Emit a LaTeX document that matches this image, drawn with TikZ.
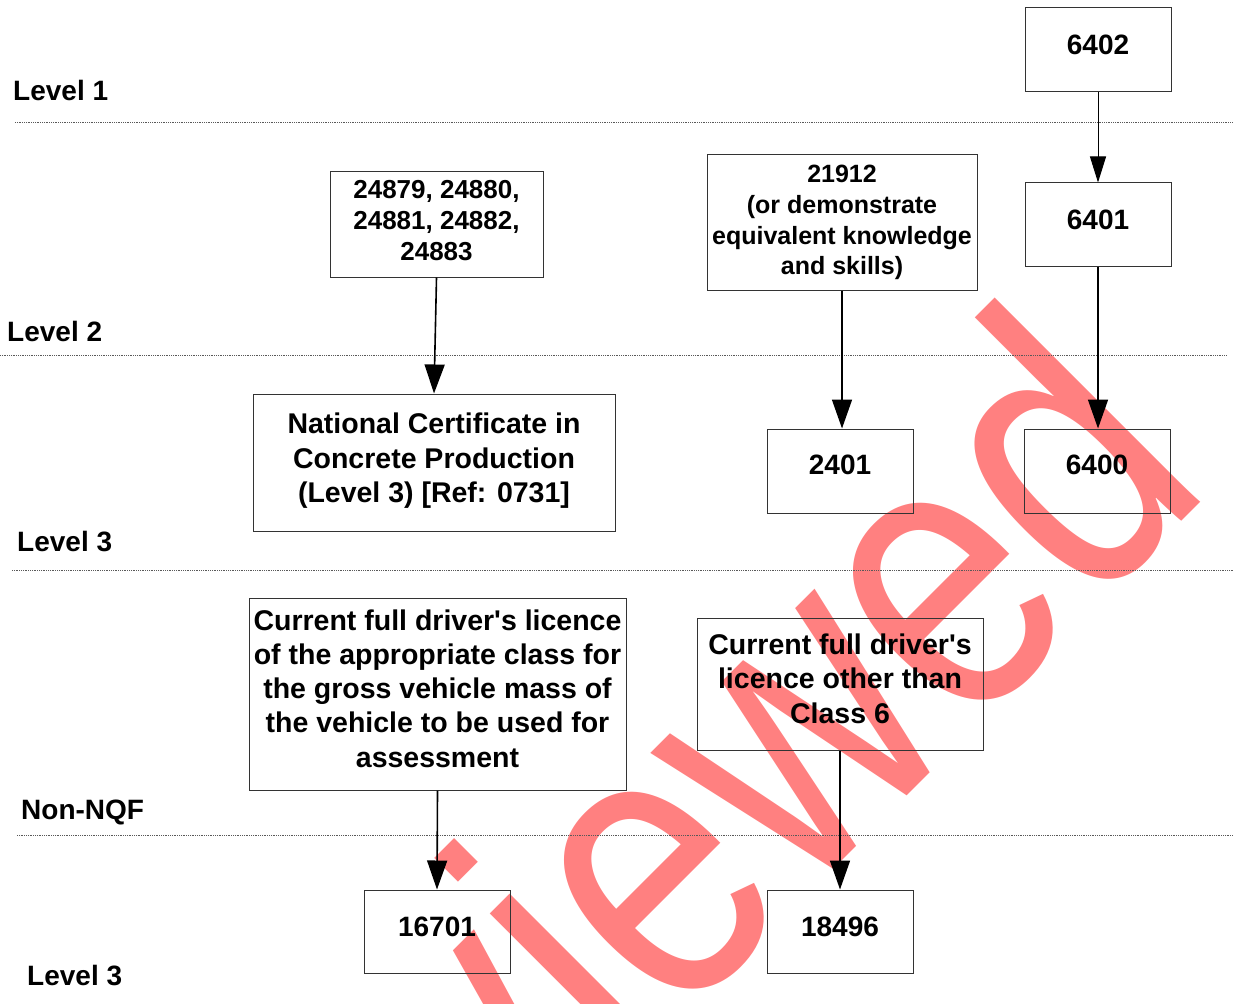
\documentclass[tikz,border=0pt]{standalone}
\usepackage{graphicx}
\usepackage{fontspec}
\setmainfont{Liberation Sans}
\usetikzlibrary{arrows.meta}
\definecolor{wmred}{RGB}{255,128,128}
\tikzset{
  boxnode/.style={draw=black!80, line width=1pt, inner sep=0pt},
  txt/.style={inner sep=0pt, align=center, font=\bfseries\fontsize{28}{34.5}\selectfont},
  txtbig/.style={inner sep=0pt, align=center, font=\bfseries\fontsize{28.5}{34.5}\selectfont},
  lvl/.style={anchor=west, inner sep=0pt, font=\bfseries\fontsize{28}{34}\selectfont},
  sepline/.style={draw=black!65, line width=0.9pt, dash pattern=on 0.9pt off 0.9pt},
  arr/.style={draw=black, line width=1.6pt, -{Triangle[length=29pt,width=20pt]}},
  arrthin/.style={draw=black, line width=1pt, -{Triangle[length=26pt,width=16pt]}},
  wm/.style={text=wmred, inner sep=0pt, anchor=base east, rotate=45, font=\fontsize{400}{480}\selectfont}
}
\begin{document}
\begin{tikzpicture}[x=1pt,y=-1pt]
\useasboundingbox (0,0) rectangle (1233,1003);
\clip (0,0) rectangle (1233,1003);
% watermark (behind everything)
\node[wm] (wmark) at (1216,487) {\scalebox{0.8}[1]{Reviewed}};

% separator lines
\coordinate (s1a) at (15,122);  \coordinate (s1b) at (1233,122);
\coordinate (s2a) at (0,355);   \coordinate (s2b) at (1227,355);
\coordinate (s3a) at (12,570);  \coordinate (s3b) at (1233,570);
\coordinate (s4a) at (17,835);  \coordinate (s4b) at (1233,835);
\draw[sepline] (s1a) -- (s1b);
\draw[sepline] (s2a) -- (s2b);
\draw[sepline] (s3a) -- (s3b);
\draw[sepline] (s4a) -- (s4b);

% level labels
\node[lvl] (l1) at (13,90) {Level 1};
\node[lvl] (l2) at (7,331.5) {Level 2};
\node[lvl] (l3) at (17,542) {Level 3};
\node[lvl] (lnon) at (21,812) {Non-NQF};
\node[lvl] (l3b) at (27,976) {Level 3};

% boxes
\node[boxnode, minimum width=146pt, minimum height=84pt] (b6402) at (1098,50) {};
\node[txt] (t6402) at (1098,45) {6402};
\node[boxnode, minimum width=146pt, minimum height=83pt] (b6401) at (1098,224.5) {};
\node[txt] (t6401) at (1098,220) {6401};
\node[boxnode, minimum width=213pt, minimum height=105pt] (b24879) at (436.5,224.5) {};
\node[txt, font=\bfseries\fontsize{26}{31}\selectfont] (t24879) at (436.5,221) {24879, 24880,\\24881, 24882,\\24883};
\node[boxnode, minimum width=270pt, minimum height=135pt] (b21912) at (842,222.5) {};
\node[txt, font=\bfseries\fontsize{25}{30.7}\selectfont] (t21912) at (842,222.6) {21912\\(or demonstrate\\equivalent knowledge\\and skills)};
\node[boxnode, minimum width=362pt, minimum height=137pt] (bNat) at (434,462.5) {};
\node[txtbig] (tNat) at (434,461) {National Certificate in\\Concrete Production\\(Level 3) [Ref: 0731]};
\node[boxnode, minimum width=146pt, minimum height=84pt] (b2401) at (840,471) {};
\node[txt] (t2401) at (840,465) {2401};
\node[boxnode, minimum width=146pt, minimum height=84pt] (b6400) at (1097,471) {};
\node[txt] (t6400) at (1097,465) {6400};
\node[boxnode, minimum width=377pt, minimum height=192pt] (bLic) at (437.5,694) {};
\node[txtbig, font=\bfseries\fontsize{28.5}{34.25}\selectfont] (tLic) at (437.5,688.5) {Current full driver\textquotesingle s licence\\of the appropriate class for\\the gross vehicle mass of\\the vehicle to be used for\\assessment};
\node[boxnode, minimum width=286pt, minimum height=132pt] (bLic6) at (840,684) {};
\node[txtbig] (tLic6) at (840,678.5) {Current full driver\textquotesingle s\\licence other than\\Class 6};
\node[boxnode, minimum width=146pt, minimum height=83pt] (b16701) at (437,931.5) {};
\node[txt] (t16701) at (437,927) {16701};
\node[boxnode, minimum width=146pt, minimum height=83pt] (b18496) at (840,931.5) {};
\node[txt] (t18496) at (840,927) {18496};

% connectors
\draw[arrthin] (b6402.south) -- (b6401.north);
\draw[arr] (b6401.south) -- (b6401.south |- b6400.north);
\draw[arr] (b24879.south) -- (bNat.north);
\draw[arr] (b21912.south) -- (b21912.south |- b2401.north);
\draw[arr] (bLic.south) -- (b16701.north);
\draw[arr] (bLic6.south) -- (b18496.north);
\end{tikzpicture}
\end{document}
